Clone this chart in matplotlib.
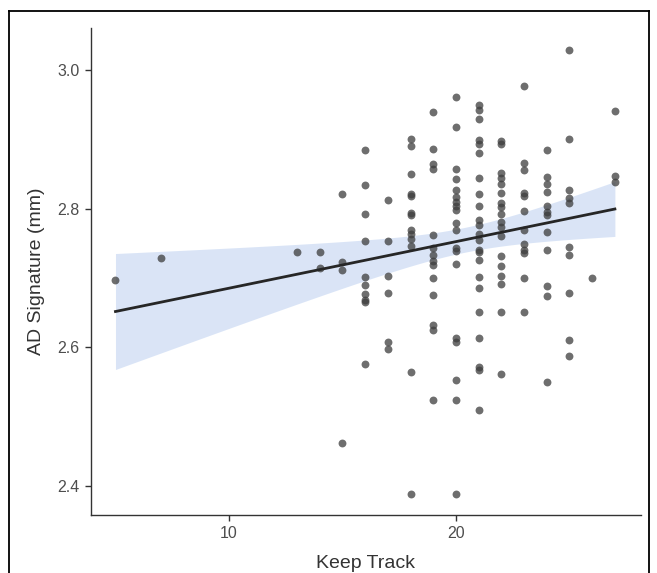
import matplotlib.pyplot as plt
import numpy as np

# Keep Track score -> AD signature values read column by column
x5 = [2.697]
x7 = [2.729]
x13 = [2.737]
x14 = [2.738, 2.715]
x15 = [2.821, 2.723, 2.712, 2.462]
x16 = [2.885, 2.834, 2.792, 2.753, 2.702, 2.690, 2.677, 2.668, 2.666, 2.576]
x17 = [2.812, 2.753, 2.703, 2.679, 2.608, 2.598]
x18 = [2.901, 2.890, 2.850, 2.822, 2.819, 2.794, 2.791, 2.769, 2.764, 2.756,
       2.747, 2.564, 2.389]
x19 = [2.940, 2.886, 2.864, 2.858, 2.762, 2.743, 2.733, 2.724, 2.719, 2.700,
       2.675, 2.632, 2.625, 2.524]
x20 = [2.962, 2.918, 2.857, 2.843, 2.827, 2.817, 2.810, 2.804, 2.798, 2.780,
       2.769, 2.743, 2.739, 2.721, 2.613, 2.608, 2.553, 2.524, 2.389]
x21 = [2.950, 2.942, 2.930, 2.899, 2.894, 2.881, 2.845, 2.822, 2.804, 2.784,
       2.776, 2.764, 2.755, 2.740, 2.738, 2.726, 2.701, 2.686, 2.651, 2.613,
       2.572, 2.567, 2.510]
x22 = [2.898, 2.893, 2.851, 2.845, 2.836, 2.823, 2.808, 2.802, 2.793, 2.781,
       2.774, 2.761, 2.732, 2.718, 2.703, 2.692, 2.651, 2.562]
x23 = [2.977, 2.866, 2.856, 2.823, 2.819, 2.797, 2.770, 2.749, 2.740, 2.736,
       2.700, 2.651]
x24 = [2.885, 2.846, 2.836, 2.824, 2.804, 2.796, 2.791, 2.766, 2.740, 2.689,
       2.674, 2.550]
x25 = [3.029, 2.901, 2.827, 2.815, 2.808, 2.745, 2.733, 2.679, 2.610, 2.587]
x26 = [2.700]
x27 = [2.941, 2.847, 2.839]

columns = {5: x5, 7: x7, 13: x13, 14: x14, 15: x15, 16: x16, 17: x17, 18: x18,
           19: x19, 20: x20, 21: x21, 22: x22, 23: x23, 24: x24, 25: x25,
           26: x26, 27: x27}

x = np.concatenate([[k] * len(v) for k, v in columns.items()]).astype(float)
y = np.concatenate([v for v in columns.values()])

# linear fit + 95% confidence band
b, a = np.polyfit(x, y, 1)
xs = np.linspace(x.min(), x.max(), 100)
ys = a + b * xs
n = len(x)
resid = y - (a + b * x)
s = np.sqrt(np.sum(resid ** 2) / (n - 2))
se = s * np.sqrt(1 / n + (xs - x.mean()) ** 2 / np.sum((x - x.mean()) ** 2))
tval = 1.975

fig = plt.figure(figsize=(6.57, 5.73), dpi=100)
plt.rcParams['font.family'] = ['Liberation Sans', 'DejaVu Sans']
ax = fig.add_axes([90.5 / 657, 58 / 573, 550.5 / 657, 487 / 573])

ax.fill_between(xs, ys - tval * se, ys + tval * se, color='#d6e2f6', alpha=0.9,
                linewidth=0, zorder=1)
ax.scatter(x, y, s=32, color='#3d3d3d', alpha=0.75, linewidths=0, zorder=2)
ax.plot(xs, ys, color='#262626', linewidth=2, zorder=3)

ax.set_xlim(3.9, 28.15)
ax.set_ylim(2.358, 3.061)
ax.set_xticks([10, 20])
ax.set_yticks([2.4, 2.6, 2.8, 3.0])
ax.set_yticklabels(['2.4', '2.6', '2.8', '3.0'])

for side in ['top', 'right']:
    ax.spines[side].set_visible(False)
for side in ['left', 'bottom']:
    ax.spines[side].set_color('#333333')
    ax.spines[side].set_linewidth(1)
ax.tick_params(axis='both', direction='out', length=4, width=1, color='#333333',
               labelcolor='#4d4d4d', labelsize=11.5, pad=4)

ax.set_xlabel('Keep Track', fontsize=14, color='#333333', labelpad=10)
ax.set_ylabel('AD Signature (mm)', fontsize=14, color='#333333', labelpad=9)

# outer frame of the screenshot
fig.add_artist(plt.Line2D([9 / 657, 649 / 657], [1 - 11 / 573, 1 - 11 / 573],
                          color='black', linewidth=1.3))
fig.add_artist(plt.Line2D([9 / 657, 9 / 657], [0, 1 - 11 / 573],
                          color='black', linewidth=1.3))
fig.add_artist(plt.Line2D([649 / 657, 649 / 657], [0, 1 - 11 / 573],
                          color='black', linewidth=1.3))

fig.savefig('out.png', dpi=100)
